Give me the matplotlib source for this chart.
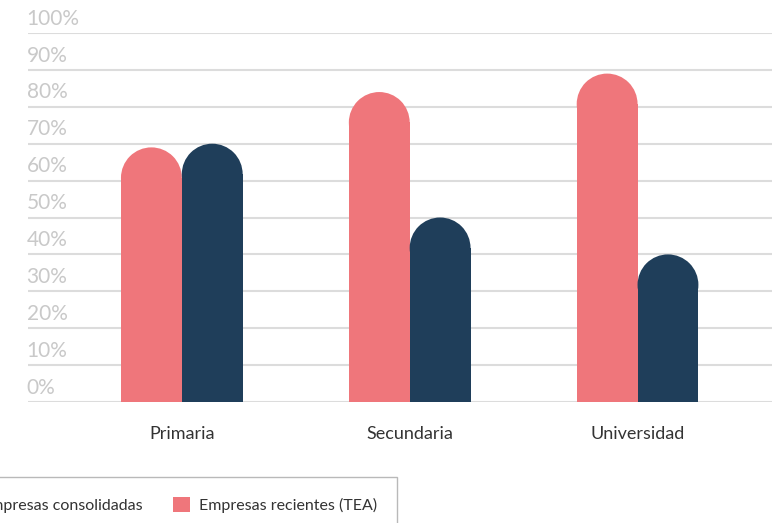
import matplotlib
matplotlib.use("Agg")
import matplotlib.pyplot as plt
from matplotlib.patches import Ellipse, Patch

categories = ["Primaria", "Secundaria", "Universidad"]
recientes = [69, 84, 89]        # Empresas recientes (TEA)
consolidadas = [70, 50, 40]     # Empresas consolidadas
yticks = list(range(0, 101, 10))
ytick_labels = [f"{v}%" for v in yticks]

PINK = "#EF767B"
NAVY = "#1F3E5A"
GRID = "#DCDCDC"
LABEL_GREY = "#C9C9C9"

plt.rcParams['font.family'] = ['Lato', 'DejaVu Sans']

W, H = 772, 523
fig = plt.figure(figsize=(W / 100, H / 100), dpi=100)
ax = fig.add_axes([28 / W, (H - 402) / H, (W - 28) / W, (402 - 33) / H])

ax.set_ylim(0, 100)
ax.set_xlim(-0.675, 2.59)
for s in ax.spines.values():
    s.set_visible(False)

ax.set_yticks(yticks)
ax.tick_params(axis='y', length=0, labelleft=False)
ax.grid(axis='y', color=GRID, linewidth=1.5)
ax.set_axisbelow(True)

for v, lab in zip(yticks, ytick_labels):
    ax.annotate(lab, xy=(0, v), xycoords=('axes fraction', 'data'),
                xytext=(-1, 6), textcoords='offset points',
                ha='left', va='baseline', fontsize=15, color=LABEL_GREY)

x = list(range(len(categories)))
bw = 0.267

# size of a circle radius (half bar width) in data units on y
p0 = ax.transData.transform((0, 0))
p1 = ax.transData.transform((bw / 2, 1))
r_px = p1[0] - p0[0]
ry = r_px / (p1[1] - p0[1])

def rounded_bars(xs, vals, color):
    for xi, v in zip(xs, vals):
        ax.bar(xi, v - ry, width=bw, color=color, linewidth=0, zorder=3)
        ax.add_patch(Ellipse((xi, v - ry), width=bw, height=2 * ry,
                             facecolor=color, edgecolor='none', zorder=3))

rounded_bars([i - bw / 2 for i in x], recientes, PINK)
rounded_bars([i + bw / 2 for i in x], consolidadas, NAVY)

ax.set_xticks(x)
ax.set_xticklabels(categories, fontsize=13, color="#333333")
ax.tick_params(axis='x', length=0, pad=17)

handles = [Patch(facecolor=NAVY, edgecolor='none', label="Empresas consolidadas"),
           Patch(facecolor=PINK, edgecolor='none', label="Empresas recientes (TEA)")]
leg = fig.legend(handles=handles, loc='upper right',
                 bbox_to_anchor=(397 / W, 1 - 477 / H), ncol=2,
                 frameon=True, fancybox=False, fontsize=11.5,
                 handlelength=1.05, handleheight=1.05, handletextpad=0.55,
                 columnspacing=1.9, borderpad=1.25, borderaxespad=0)
leg.get_frame().set_edgecolor("#A8A8A8")
leg.get_frame().set_linewidth(1.0)
for t in leg.get_texts():
    t.set_color("#333333")

fig.savefig("out.png", dpi=100)
